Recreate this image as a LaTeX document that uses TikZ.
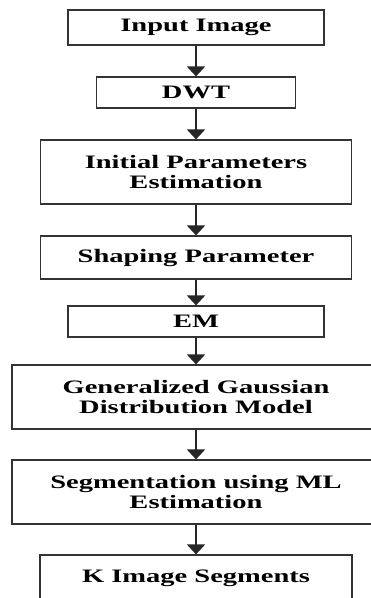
\documentclass[tikz,border=0pt]{standalone}
\usepackage{fontspec}
\setmainfont{Liberation Serif}[FakeStretch=1.5]
\usetikzlibrary{arrows.meta}
\tikzset{>={Triangle[width=18pt 0 0,length=10pt 0 0]}}
\tikzset{stage/.style={draw=black!80, line width=1.2pt, align=center, inner sep=0pt,
  font=\bfseries\fontsize{19}{20.5}\selectfont}}

\begin{document}
\begin{tikzpicture}[x=1pt, y=-1pt]
\fill[white] (0,0) rectangle (371,598);
\useasboundingbox (0,0) rectangle (371,598);
\clip (0,0) rectangle (371,598);
% stages of the segmentation
\node[stage, minimum width=256pt, minimum height=35pt] (input) at (196,27.5) {Input Image};
\node[stage, minimum width=199pt, minimum height=31pt] (dwt) at (196,92.5) {DWT};
\node[stage, minimum width=311pt, minimum height=64pt] (init) at (196,172) {Initial Parameters\\Estimation};
\node[stage, minimum width=311pt, minimum height=43pt] (shape) at (196,257.5) {Shaping Parameter};
\node[stage, minimum width=256pt, minimum height=31pt] (em) at (196,321.5) {EM};
\node[stage, minimum width=368pt, minimum height=64pt] (ggd) at (196,397) {Generalized Gaussian\\Distribution Model};
\node[stage, minimum width=368pt, minimum height=64pt] (seg) at (196,492) {Segmentation using ML\\Estimation};
\node[stage, minimum width=312pt, minimum height=46pt] (kseg) at (196,578) {K Image Segments};
% arrows
\foreach \a/\b in {input/dwt, dwt/init, init/shape, shape/em, em/ggd, ggd/seg, seg/kseg}
  \draw[->, line width=2pt, black!85] (\a.south) -- (\b.north);
\end{tikzpicture}
\end{document}
